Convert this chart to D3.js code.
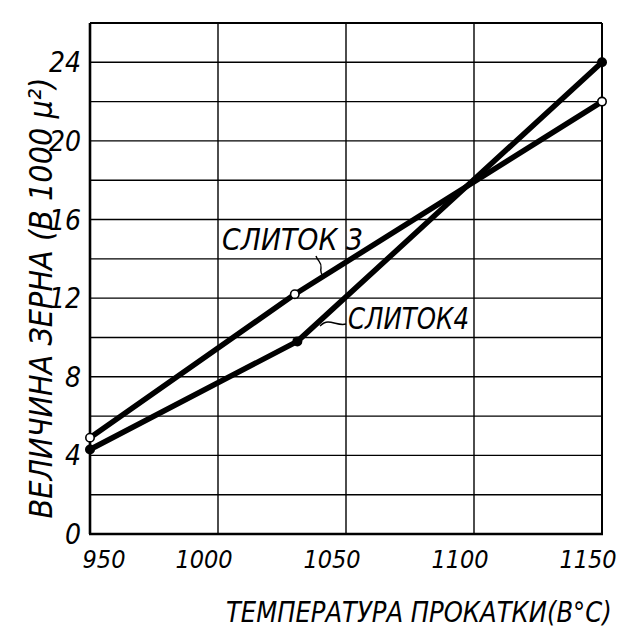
<!DOCTYPE html>
<html>
<head>
<meta charset="utf-8">
<script src="https://cdn.jsdelivr.net/npm/d3@7"></script>
<style>
  html, body { margin: 0; padding: 0; background: #fff; }
  svg { display: block; }
  text { font-family: "Liberation Sans Narrow", "DejaVu Sans Condensed", sans-serif; font-style: italic; fill: #000; }
</style>
</head>
<body>
<div id="chart"></div>
<script>
// Rolling temperature (°C) and grain size (thousands of μ²) for two ingots
const temps3 = [950, 1030, 1150];
const grain3 = [4.9, 12.2, 22];
const temps4 = [950, 1031, 1150];
const grain4 = [4.3, 9.8, 24];

const xTicks = [950, 1000, 1050, 1100, 1150];
const xTickLabels = ["950", "1000", "1050", "1100", "1150"];
const yTicks = [0, 4, 8, 12, 16, 20, 24];
const yGrid = [2, 4, 6, 8, 10, 12, 14, 16, 18, 20, 22, 24, 26];
const seriesNames = ["СЛИТОК 3", "СЛИТОК4"];
const xTitle = "ТЕМПЕРАТУРА ПРОКАТКИ(В°С)";
const yTitle = "ВЕЛИЧИНА ЗЕРНА (В 1000 μ²)";

const W = 632, H = 634;
const margin = { top: 23, right: 30, bottom: 100, left: 90 };

const svg = d3.select("#chart").append("svg")
  .attr("width", W).attr("height", H);

const x = d3.scaleLinear().domain([950, 1150]).range([margin.left, W - margin.right]);
const y = d3.scaleLinear().domain([0, 26]).range([H - margin.bottom, margin.top]);

// Grid
const grid = svg.append("g").attr("stroke", "#000").attr("fill", "none");
grid.selectAll("line.h").data(yGrid).join("line")
  .attr("class", "h")
  .attr("x1", x(950)).attr("x2", x(1150))
  .attr("y1", d => y(d)).attr("y2", d => y(d))
  .attr("stroke-width", d => d === 26 ? 2 : 1.4);
grid.selectAll("line.v").data(xTicks.slice(1)).join("line")
  .attr("class", "v")
  .attr("x1", d => x(d)).attr("x2", d => x(d))
  .attr("y1", y(0)).attr("y2", y(26))
  .attr("stroke-width", d => d === 1150 ? 2 : 1.4);

// Axes (left and bottom frame lines)
svg.append("line").attr("stroke", "#000").attr("stroke-width", 2.6)
  .attr("x1", x(950)).attr("x2", x(950)).attr("y1", y(26)).attr("y2", y(0));
svg.append("line").attr("stroke", "#000").attr("stroke-width", 2.6)
  .attr("x1", x(950) - 1).attr("x2", x(1150) + 1).attr("y1", y(0)).attr("y2", y(0));

// Tick labels
svg.append("g").selectAll("text").data(yTicks).join("text")
  .attr("x", x(950) - 9)
  .attr("y", d => y(d))
  .attr("dy", "0.36em")
  .attr("text-anchor", "end")
  .attr("font-size", 28)
  .text(d => d);

svg.append("g").selectAll("text").data(xTicks).join("text")
  .attr("x", (d, i) => x(d) + (i === 0 ? 14 : -14))
  .attr("y", y(0) + 34)
  .attr("text-anchor", "middle")
  .attr("font-size", 25)
  .text((d, i) => xTickLabels[i]);

// Condense a text horizontally so that it spans a target width
function fitWidth(sel, size, width) {
  sel.attr("font-size", size);
  const w = sel.node().getComputedTextLength();
  return Math.min(1, width / w);
}

// Axis titles
const yT = svg.append("text")
  .attr("text-anchor", "middle")
  .text(yTitle);
const ky = fitWidth(yT, 32, 460);
yT.attr("transform", `translate(52, 298) rotate(-90) scale(${ky}, 1)`);

const xT = svg.append("text")
  .text(xTitle);
const kx = fitWidth(xT, 29, 386);
xT.attr("transform", `translate(226, 622) scale(${kx}, 1)`);

// Data lines
const line = d3.line().x(d => x(d[0])).y(d => y(d[1]));
const pts3 = temps3.map((t, i) => [t, grain3[i]]);
const pts4 = temps4.map((t, i) => [t, grain4[i]]);

svg.append("path").datum(pts3).attr("d", line)
  .attr("fill", "none").attr("stroke", "#000").attr("stroke-width", 5.5)
  .attr("stroke-linejoin", "round");
svg.append("path").datum(pts4).attr("d", line)
  .attr("fill", "none").attr("stroke", "#000").attr("stroke-width", 5.5)
  .attr("stroke-linejoin", "round");

// Markers: open for ingot 3, filled for ingot 4
svg.append("g").selectAll("circle").data(pts3).join("circle")
  .attr("cx", d => x(d[0])).attr("cy", d => y(d[1])).attr("r", 4.2)
  .attr("fill", "#fff").attr("stroke", "#000").attr("stroke-width", 1.6);
svg.append("g").selectAll("circle").data(pts4).join("circle")
  .attr("cx", d => x(d[0])).attr("cy", d => y(d[1])).attr("r", 5)
  .attr("fill", "#000");

// Series labels with leader strokes
svg.append("text")
  .attr("x", 222).attr("y", 250)
  .attr("font-size", 30)
  .attr("textLength", 141)
  .attr("lengthAdjust", "spacingAndGlyphs")
  .text(seriesNames[0]);
svg.append("path")
  .attr("d", "M316,256 C318,262 322,262 321,268 C320,272 322,275 324,277")
  .attr("fill", "none").attr("stroke", "#000").attr("stroke-width", 1.4);

svg.append("text")
  .attr("x", 348).attr("y", 329)
  .attr("font-size", 30)
  .attr("textLength", 121)
  .attr("lengthAdjust", "spacingAndGlyphs")
  .text(seriesNames[1]);
svg.append("path")
  .attr("d", "M346,324 C340,326 334,322 328,322 C324,322 322,324 320,326")
  .attr("fill", "none").attr("stroke", "#000").attr("stroke-width", 1.4);
</script>
</body>
</html>
